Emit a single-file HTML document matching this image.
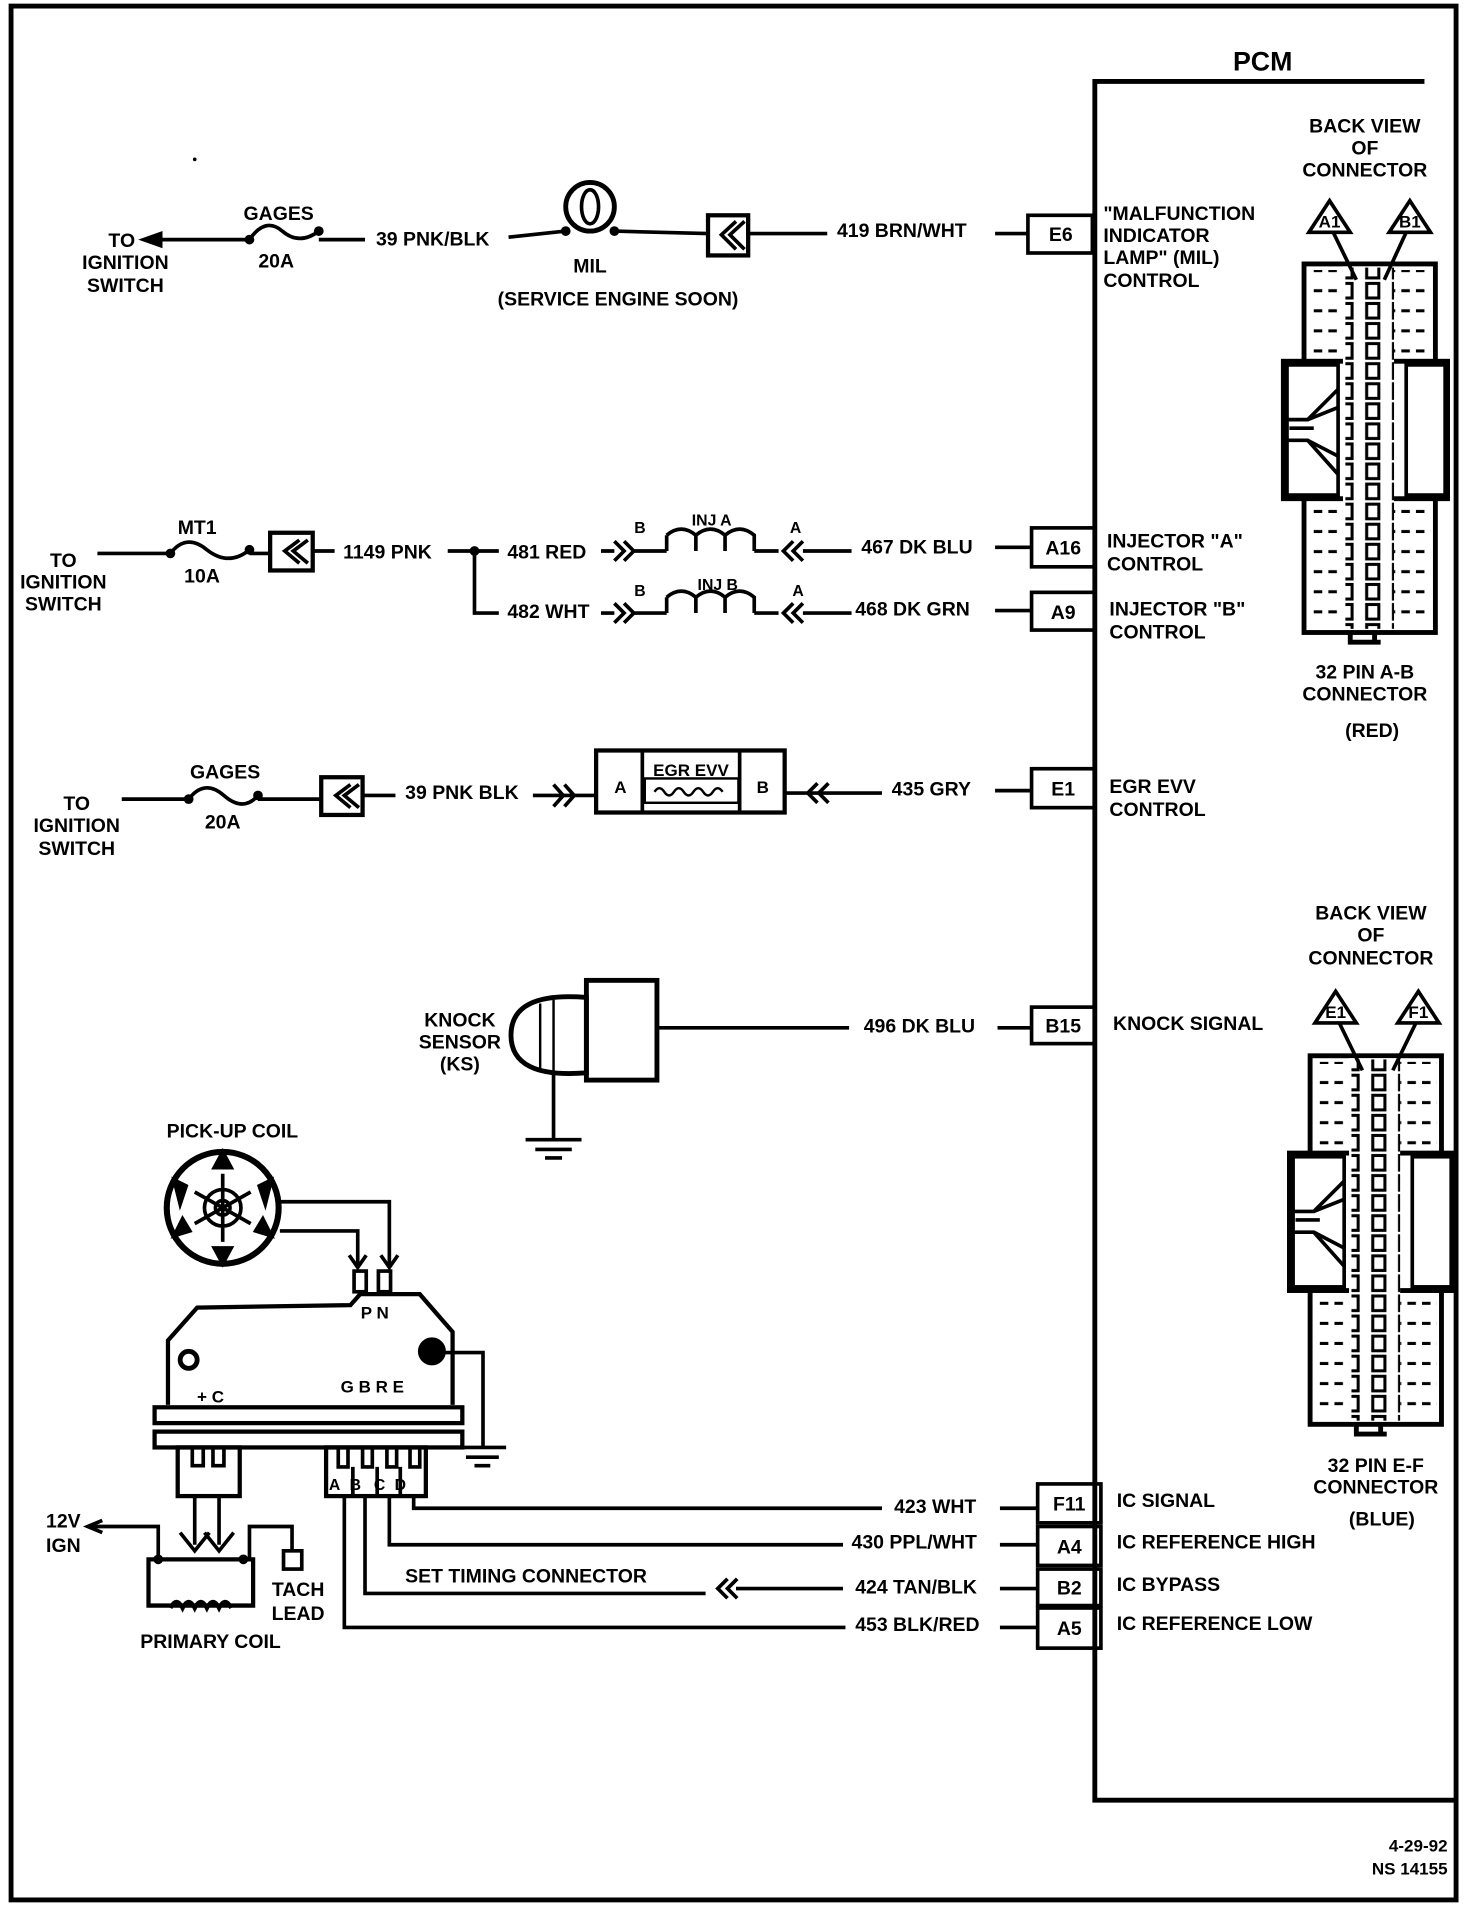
<!DOCTYPE html>
<html><head><meta charset="utf-8"><style>
html,body{margin:0;padding:0;background:#fff}
svg{display:block}
text{font-family:"Liberation Sans",sans-serif;font-weight:bold;fill:#000}
</style></head><body>
<svg width="1472" height="1906" viewBox="0 0 1210 1567" xmlns="http://www.w3.org/2000/svg" font-size="16">
<defs>
<pattern id="pins" x="0" y="0" width="22" height="16.5" patternUnits="userSpaceOnUse">
<rect x="1.5" y="2" width="10" height="12" fill="none" stroke="#000" stroke-width="2.5"/>
</pattern>
<pattern id="dash" x="0" y="0" width="12" height="16.5" patternUnits="userSpaceOnUse">
<line x1="0" y1="8" x2="7" y2="8" stroke="#000" stroke-width="2.5"/>
</pattern>
<g id="conn">
<rect x="1072" y="217" width="108" height="303" fill="#fff" stroke="#000" stroke-width="4"/>
<rect x="1076" y="222" width="30" height="292" fill="url(#dash)"/>
<rect x="1146" y="222" width="30" height="292" fill="url(#dash)"/>
<rect x="1055" y="297" width="135" height="113" fill="#fff" stroke="#000" stroke-width="4"/>
<rect x="1058" y="300" width="42" height="107" fill="#fff" stroke="#000" stroke-width="3"/>
<path d="M1058 345 L1075 345 L1100 320 M1058 362 L1075 362 L1100 390 M1060 352 L1080 352 M1075 345 L1100 335 M1075 362 L1100 375" stroke="#000" stroke-width="3" fill="none"/>
<rect x="1156" y="300" width="32" height="107" fill="#fff" stroke="#000" stroke-width="3"/>
<rect x="1104" y="219" width="42" height="298" fill="#fff"/>
<rect x="1106" y="220" width="40" height="297" fill="url(#pins)"/>
<path d="M1110 520 L1110 528 L1135 528 M1130 520 L1130 530" stroke="#000" stroke-width="4" fill="none"/>
</g>
</defs>
<rect width="1210" height="1567" fill="#fff"/>
<rect x="9" y="5" width="1188" height="1557" fill="none" stroke="#000" stroke-width="4"/>
<text x="1038" y="58" font-size="22" text-anchor="middle">PCM</text>
<path d="M1171 67 L900 67 L900 1480 L1198 1480" fill="none" stroke="#000" stroke-width="4"/>
<circle cx="160" cy="131" r="1.5" fill="#000"/>

<g stroke="#000" stroke-width="3" fill="none">
<path d="M122 197 L205 197"/><path d="M132 192 L118 197 L132 202Z" fill="#000"/>
<path d="M205 197 Q218 178 232 190 Q246 202 262 190"/>
<path d="M262 197 L300 197"/>
<path d="M418 195 L465 190 M505 190 L582 192"/>
<circle cx="485" cy="170" r="20" stroke-width="4"/>
<ellipse cx="485" cy="170" rx="7" ry="14"/>
<rect x="582" y="177" width="33" height="33" stroke-width="3.5"/>
<path d="M605 182 L593 193 L605 205 M612 182 L600 193 L612 205"/>
<path d="M615 192 L680 192 M818 192 L845 192"/>
<rect x="845" y="177" width="53" height="31"/>
<path d="M80 455 L140 455"/>
<path d="M140 455 Q153 438 170 452 Q188 466 205 452"/>
<path d="M205 455 L222 455"/>
<rect x="222" y="438" width="35" height="31" stroke-width="3.5"/>
<path d="M246 444 L234 453 L246 463 M253 444 L241 453 L253 463"/>
<path d="M258 453 L275 453 M368 453 L410 453 M390 453 L390 504 L410 504"/>
<path d="M494 453 L505 453 M494 504 L505 504"/>
<path d="M505 445 L513 453 L505 461 M513 445 L521 453 L513 461 M521 453 L548 453"/>
<path d="M505 496 L513 504 L505 512 M513 496 L521 504 L513 512 M521 504 L548 504"/>
<path d="M548 453 L548 440 M548 440 Q560 430 572 440 L572 453 M572 440 Q584 430 596 440 L596 453 M596 440 Q608 430 620 440 L620 453 M620 453 L640 453"/>
<path d="M548 504 L548 491 M548 491 Q560 481 572 491 L572 504 M572 491 Q584 481 596 491 L596 504 M596 491 Q608 481 620 491 L620 504 M620 504 L640 504"/>
<path d="M652 445 L644 453 L652 461 M660 445 L652 453 L660 461 M660 453 L700 453"/>
<path d="M652 496 L644 504 L652 512 M660 496 L652 504 L660 512 M660 504 L700 504"/>
<path d="M818 450 L848 450 M818 502 L848 502"/>
<rect x="848" y="434" width="52" height="32"/>
<rect x="848" y="487" width="52" height="31"/>
<path d="M100 657 L155 657"/>
<path d="M155 657 Q168 640 184 654 Q200 668 212 654"/>
<path d="M212 657 L264 657"/>
<rect x="264" y="639" width="34" height="31" stroke-width="3.5"/>
<path d="M288 645 L276 654 L288 664 M295 645 L283 654 L295 664"/>
<path d="M298 654 L325 654 M438 654 L490 654"/>
<path d="M455 645 L463 654 L455 663 M464 645 L472 654 L464 663"/>
<rect x="490" y="617" width="155" height="51" stroke-width="3.5"/>
<path d="M528 617 L528 668 M608 617 L608 668"/>
<rect x="530" y="640" width="77" height="20" stroke-width="2"/>
<path d="M538 651 q4 -6 8 0 q4 6 8 0 q4 -6 8 0 q4 6 8 0 q4 -6 8 0 q4 6 8 0 q4 -6 8 0" stroke-width="2"/>
<path d="M645 652 L725 652"/>
<path d="M672 644 L664 652 L672 660 M681 644 L673 652 L681 660"/>
<path d="M818 650 L848 650"/>
<rect x="848" y="632" width="52" height="32"/>
<path d="M482 820 Q420 815 420 851 Q420 887 482 882 Z" stroke-width="4" fill="#fff"/>
<path d="M444 825 L444 878 M455 822 L455 882" stroke-width="2"/>
<rect x="482" y="806" width="58" height="82" stroke-width="4"/>
<path d="M540 845 L698 845 M820 845 L848 845"/>
<rect x="848" y="828" width="52" height="30"/>
<path d="M455 882 L455 937 M432 937 L478 937 M440 945 L470 945 M448 952 L462 952"/>
<circle cx="183" cy="993" r="46" stroke-width="5"/>
<path d="M183 947 L176 960 L190 960Z M183 1039 L176 1026 L190 1026Z M143 970 L148 990 L153 975Z M223 970 L218 990 L213 975Z M143 1016 L150 1002 L156 1012Z M223 1016 L216 1002 L210 1012Z" fill="#000"/>
<circle cx="183" cy="993" r="15"/>
<circle cx="183" cy="993" r="6"/>
<path d="M183 965 L183 1021 M160 980 L206 1006 M160 1006 L206 980"/>
<path d="M230 988 L320 988 L320 1040 M230 1012 L294 1012 L294 1040"/>
<path d="M287 1032 L294 1042 L301 1032 M313 1032 L320 1042 L327 1032"/>
<rect x="291" y="1045" width="10" height="17"/><rect x="311" y="1045" width="10" height="17"/>
<path d="M138 1155 L138 1102 L162 1075 L288 1073 L296 1064 L345 1064 L372 1095 L372 1155" stroke-width="3.5"/>
<circle cx="155" cy="1118" r="7" stroke-width="4"/>
<circle cx="355" cy="1111" r="10" fill="#000"/>
<path d="M365 1112 L397 1112 L397 1190 M376 1190 L416 1190 M383 1198 L410 1198 M390 1205 L403 1205"/>
<rect x="127" y="1157" width="253" height="13" stroke-width="3.5"/>
<rect x="127" y="1177" width="253" height="13" stroke-width="3.5"/>
<rect x="146" y="1190" width="51" height="40" stroke-width="3.5"/>
<path d="M158 1190 L158 1205 L167 1205 L167 1190 M175 1190 L175 1205 L184 1205 L184 1190"/>
<rect x="268" y="1190" width="82" height="40" stroke-width="3.5"/>
<path d="M278 1190 L278 1206 L286 1206 L286 1190 M298 1190 L298 1206 L306 1206 L306 1190 M318 1190 L318 1206 L326 1206 L326 1190 M337 1190 L337 1206 L345 1206 L345 1190 M290 1206 L290 1230 M310 1206 L310 1230 M329 1206 L329 1230"/>
<path d="M340 1230 L340 1240 L725 1240 M822 1240 L853 1240 M320 1230 L320 1270 L693 1270 M822 1270 L853 1270 M300 1230 L300 1310 L580 1310 M605 1306 L693 1306 M822 1306 L853 1306 M283 1230 L283 1338 L695 1338 M822 1338 L853 1338"/>
<path d="M598 1298 L590 1306 L598 1314 M606 1298 L598 1306 L606 1314"/>
<rect x="853" y="1220" width="52" height="32"/>
<rect x="853" y="1255" width="52" height="32"/>
<rect x="853" y="1290" width="52" height="30"/>
<rect x="853" y="1322" width="52" height="33"/>
<path d="M160 1230 L160 1270 M180 1230 L180 1270"/>
<path d="M148 1260 L160 1275 L172 1260 M168 1260 L180 1275 L192 1260"/>
<path d="M72 1255 L130 1255 L130 1282"/>
<path d="M84 1250 L72 1255 L84 1260" />
<path d="M122 1282 L208 1282 L208 1320 L122 1320 Z" stroke-width="3.5"/>
<path d="M140 1322 q5 -10 10 0 q5 -10 10 0 q5 -10 10 0 q5 -10 10 0 q5 -10 10 0" stroke-width="3.5"/>
<path d="M205 1282 L205 1255 L240 1255 L240 1275"/>
<rect x="233" y="1275" width="15" height="15"/>
</g>
<circle cx="465" cy="190" r="4" fill="#000"/><circle cx="505" cy="190" r="4" fill="#000"/>
<circle cx="205" cy="197" r="4" fill="#000"/><circle cx="262" cy="190" r="4" fill="#000"/>
<circle cx="140" cy="455" r="4" fill="#000"/><circle cx="205" cy="452" r="4" fill="#000"/>
<circle cx="390" cy="453" r="4" fill="#000"/>
<circle cx="155" cy="657" r="4" fill="#000"/><circle cx="212" cy="654" r="4" fill="#000"/>
<circle cx="130" cy="1282" r="4" fill="#000"/><circle cx="200" cy="1282" r="4" fill="#000"/>

<use href="#conn"/>
<use href="#conn" transform="translate(5,651)"/>
<g stroke="#000" stroke-width="3" fill="#fff">
<path d="M1093 165 L1076 191 L1110 191Z"/><path d="M1159 165 L1142 191 L1176 191Z"/>
<path d="M1098 815 L1081 841 L1115 841Z"/><path d="M1166 815 L1149 841 L1183 841Z"/>
</g>
<g stroke="#000" stroke-width="3">
<path d="M1096 191 L1115 230 M1156 191 L1138 230 M1101 841 L1120 880 M1164 841 L1145 880"/>
</g>

<g text-anchor="middle">
<text x="100" y="203">TO</text><text x="103" y="221">IGNITION</text><text x="103" y="240">SWITCH</text>
<text x="229" y="181">GAGES</text><text x="227" y="220">20A</text>
<text x="485" y="224">MIL</text>
<text x="508" y="251">(SERVICE ENGINE SOON)</text>
<text x="52" y="466">TO</text><text x="52" y="484">IGNITION</text><text x="52" y="502">SWITCH</text>
<text x="162" y="439">MT1</text><text x="166" y="479">10A</text>
<text x="63" y="666">TO</text><text x="63" y="684">IGNITION</text><text x="63" y="703">SWITCH</text>
<text x="185" y="640">GAGES</text><text x="183" y="681">20A</text>
<text x="526" y="438" font-size="13">B</text><text x="585" y="432" font-size="13">INJ A</text><text x="654" y="438" font-size="13">A</text>
<text x="526" y="490" font-size="13">B</text><text x="590" y="485" font-size="13">INJ B</text><text x="656" y="490" font-size="13">A</text>
<text x="510" y="652" font-size="14">A</text><text x="627" y="652" font-size="14">B</text>
<text x="568" y="638" font-size="14">EGR EVV</text>
<text x="872" y="198">E6</text><text x="874" y="456">A16</text><text x="874" y="509">A9</text>
<text x="874" y="654">E1</text><text x="874" y="849">B15</text>
<text x="879" y="1242">F11</text><text x="879" y="1277">A4</text><text x="879" y="1311">B2</text><text x="879" y="1344">A5</text>
<text x="378" y="844">KNOCK</text><text x="378" y="862">SENSOR</text><text x="378" y="880">(KS)</text>
<text x="191" y="935">PICK-UP COIL</text>
<text x="308" y="1084" font-size="14">P N</text>
<text x="173" y="1153" font-size="14">+ C</text>
<text x="306" y="1145" font-size="14">G B R E</text>
<text x="275" y="1225" font-size="13">A</text><text x="292" y="1225" font-size="13">B</text><text x="312" y="1225" font-size="13">C</text><text x="329" y="1225" font-size="13">D</text>
<text x="52" y="1256">12V</text><text x="52" y="1276">IGN</text>
<text x="245" y="1312">TACH</text><text x="245" y="1332">LEAD</text>
<text x="173" y="1355">PRIMARY COIL</text>
<text x="1122" y="109">BACK VIEW</text><text x="1122" y="127">OF</text><text x="1122" y="145">CONNECTOR</text>
<text x="1093" y="187" font-size="14">A1</text><text x="1159" y="187" font-size="14">B1</text>
<text x="1122" y="558">32  PIN A-B</text><text x="1122" y="576">CONNECTOR</text><text x="1128" y="606">(RED)</text>
<text x="1127" y="756">BACK VIEW</text><text x="1127" y="774">OF</text><text x="1127" y="793">CONNECTOR</text>
<text x="1098" y="837" font-size="14">E1</text><text x="1166" y="837" font-size="14">F1</text>
<text x="1131" y="1210">32 PIN E-F</text><text x="1131" y="1228">CONNECTOR</text><text x="1136" y="1254">(BLUE)</text>
</g>
<text x="309" y="202">39 PNK/BLK</text>
<text x="688" y="195">419 BRN/WHT</text>
<text x="907" y="181">"MALFUNCTION</text><text x="907" y="199">INDICATOR</text><text x="907" y="217">LAMP" (MIL)</text><text x="907" y="236">CONTROL</text>
<text x="282" y="459">1149 PNK</text>
<text x="417" y="459">481 RED</text><text x="417" y="508">482 WHT</text>
<text x="708" y="455">467 DK BLU</text><text x="703" y="506">468 DK GRN</text>
<text x="910" y="450">INJECTOR "A"</text><text x="910" y="469">CONTROL</text>
<text x="912" y="506">INJECTOR "B"</text><text x="912" y="525">CONTROL</text>
<text x="333" y="657">39 PNK BLK</text>
<text x="733" y="654">435 GRY</text>
<text x="912" y="652">EGR EVV</text><text x="912" y="671">CONTROL</text>
<text x="710" y="849">496 DK BLU</text>
<text x="915" y="847">KNOCK SIGNAL</text>
<text x="735" y="1244">423 WHT</text>
<text x="700" y="1273">430 PPL/WHT</text>
<text x="333" y="1301">SET TIMING CONNECTOR</text>
<text x="703" y="1310">424 TAN/BLK</text>
<text x="703" y="1341">453 BLK/RED</text>
<text x="918" y="1239">IC SIGNAL</text>
<text x="918" y="1273">IC REFERENCE HIGH</text>
<text x="918" y="1308">IC BYPASS</text>
<text x="918" y="1340">IC REFERENCE LOW</text>
<g text-anchor="end" font-size="14"><text x="1190" y="1522">4-29-92</text><text x="1190" y="1541">NS 14155</text></g>
</svg>
</body></html>
